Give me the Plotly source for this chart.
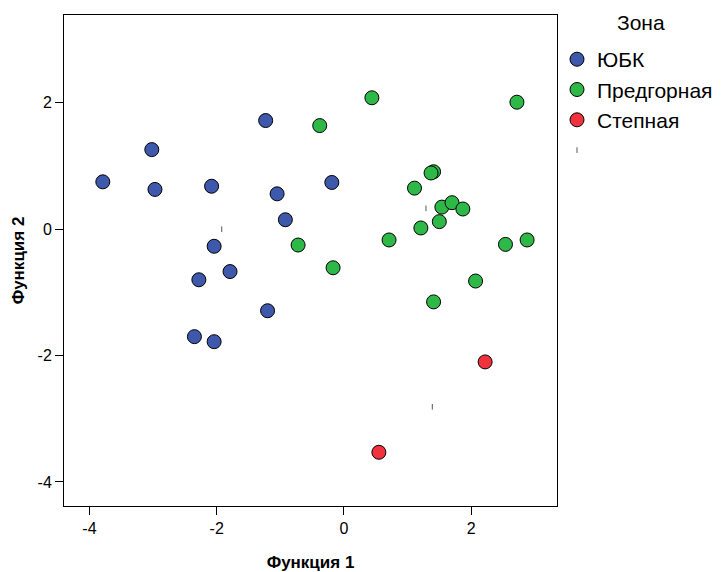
import plotly.graph_objects as go

# Data (discriminant function scores)
yubk_f1 = [-1.23, -3.02, -3.79, -2.97, -2.08, -1.05, -0.92, -2.04, -0.19, -1.79, -2.28, -1.20, -2.35, -2.04]
yubk_f2 = [1.72, 1.26, 0.75, 0.63, 0.68, 0.56, 0.15, -0.27, 0.74, -0.67, -0.80, -1.29, -1.70, -1.78]

pred_f1 = [-0.72, 0.44, 2.72, -0.38, 1.41, 1.37, 1.11, 1.54, 1.70, 1.87, 1.50, 1.21, 0.71, 2.54, 2.88, -0.17, 2.07, 1.41]
pred_f2 = [-0.25, 2.08, 2.01, 1.64, 0.91, 0.89, 0.65, 0.35, 0.42, 0.32, 0.12, 0.02, -0.17, -0.24, -0.17, -0.61, -0.82, -1.15]

step_f1 = [2.22, 0.55]
step_f2 = [-2.10, -3.53]

centroid_f1 = [-1.92, 1.29, 1.39]
centroid_f2 = [0.00, 0.33, -2.81]

group_names = ["ЮБК", "Предгорная", "Степная"]
group_colors = ["#3E58AC", "#2EB848", "#F0323C"]
legend_title = "Зона"

FONT = "Liberation Sans, Arial, sans-serif"

fig = go.Figure()
for name, color, xs, ys in zip(group_names, group_colors,
                               [yubk_f1, pred_f1, step_f1],
                               [yubk_f2, pred_f2, step_f2]):
    fig.add_trace(go.Scatter(
        x=xs, y=ys, mode="markers", name=name,
        marker=dict(size=14, color=color, line=dict(color="black", width=1)),
    ))

fig.add_trace(go.Scatter(
    x=centroid_f1, y=centroid_f2, mode="markers", name=" ",
    marker=dict(symbol="line-ns", size=4, line=dict(color="#555555", width=1), color="#555555"),
))

fig.update_layout(
    width=724, height=572,
    margin=dict(l=64, r=167, t=15, b=66, autoexpand=False),
    paper_bgcolor="white", plot_bgcolor="white",
    font=dict(family=FONT, color="black"),
    legend=dict(
        x=1.0, xanchor="left", y=0.951, yanchor="top",
        font=dict(size=21, family=FONT),
        itemwidth=30, bgcolor="rgba(0,0,0,0)",
    ),
    annotations=[dict(
        text=legend_title, xref="paper", yref="paper",
        x=1.17, y=0.984, xanchor="center", yanchor="middle",
        showarrow=False, font=dict(size=21, family=FONT),
    )],
)

fig.update_xaxes(
    range=[-4.40, 3.35], tickvals=[-4, -2, 0, 2], ticktext=["-4", "-2", "0", "2"],
    showgrid=False, zeroline=False, automargin=False,
    showline=True, linecolor="black", linewidth=1, mirror=True,
    ticks="outside", ticklen=8, tickcolor="black",
    tickfont=dict(size=16, family=FONT),
    title=dict(text="<b>Функция 1</b>", font=dict(size=17, family=FONT), standoff=20),
)
fig.update_yaxes(
    range=[-4.38, 3.39], tickvals=[-4, -2, 0, 2], ticktext=["-4", "-2", "0", "2"],
    showgrid=False, zeroline=False, automargin=False,
    showline=True, linecolor="black", linewidth=1, mirror=True,
    ticks="outside", ticklen=8, tickcolor="black",
    tickfont=dict(size=16, family=FONT),
    title=dict(text="<b>Функция 2</b>", font=dict(size=17, family=FONT), standoff=8),
)

fig.write_html("out.html")
